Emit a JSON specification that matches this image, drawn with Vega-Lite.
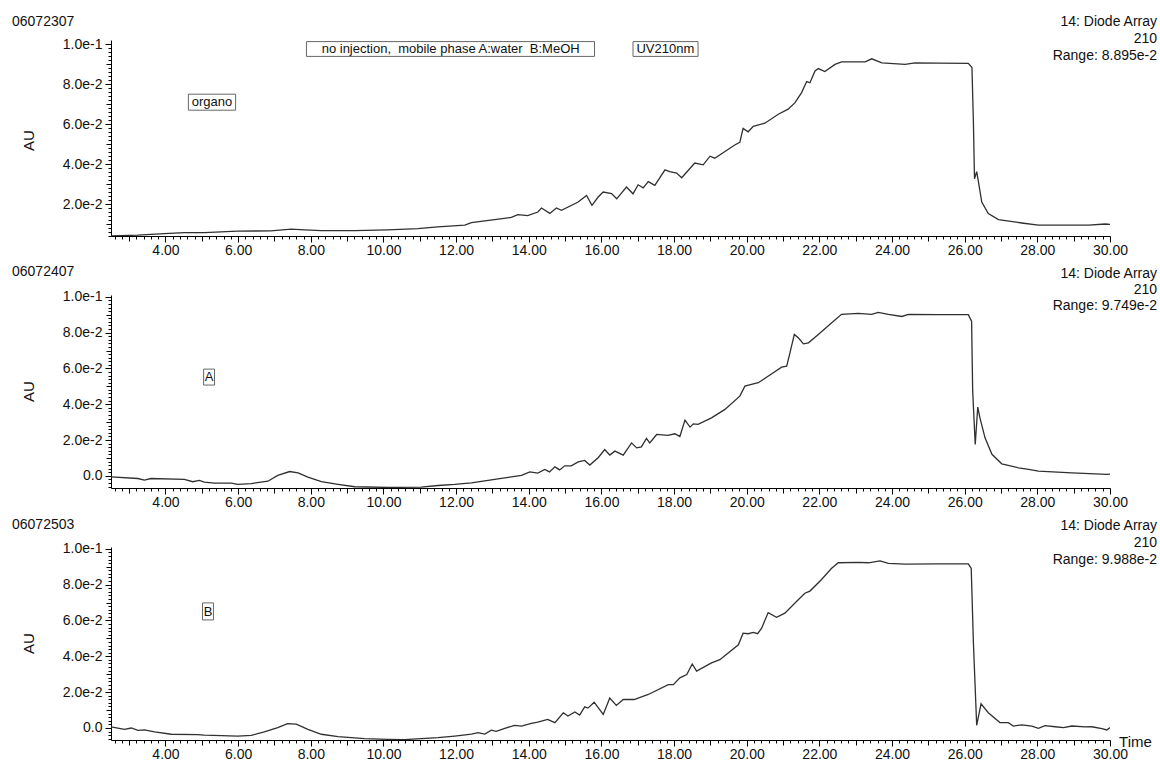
{
  "$schema": "https://vega.github.io/schema/vega-lite/v6.json",
  "padding": {"left": 12, "top": 14, "right": 2, "bottom": 2},
  "background": "white",
  "config": {
    "font": "Liberation Sans",
    "view": {"stroke": null},
    "axis": {"labelFont": "Liberation Sans", "labelFontSize": 14, "labelColor": "#111", "domainColor": "#000", "tickColor": "#000", "grid": false, "labelFlush": false, "labelOverlap": false, "tickCount": 500, "titleFont": "Liberation Sans", "titleFontWeight": "normal", "titleFontSize": 15, "titleColor": "#111"},
    "text": {"font": "Liberation Sans", "color": "#111"}
  },
  "datasets": {
    "p1": [
      {"t": 2.5, "v": 0.0041}, {"t": 3.23, "v": 0.0044}, {"t": 3.97, "v": 0.0052}, {"t": 4.52, "v": 0.0057}, {"t": 5.07, "v": 0.0057}, {"t": 5.98, "v": 0.0064}, {"t": 6.9, "v": 0.0066}, {"t": 7.46, "v": 0.0074}, {"t": 7.83, "v": 0.0071}, {"t": 8.29, "v": 0.0067}, {"t": 9.21, "v": 0.0067}, {"t": 10.12, "v": 0.0071}, {"t": 10.95, "v": 0.0077}, {"t": 11.49, "v": 0.0086}, {"t": 12.24, "v": 0.0094}, {"t": 12.42, "v": 0.0107}, {"t": 13.06, "v": 0.0122}, {"t": 13.52, "v": 0.0133}, {"t": 13.7, "v": 0.0147}, {"t": 13.97, "v": 0.0142}, {"t": 14.25, "v": 0.016}, {"t": 14.35, "v": 0.018}, {"t": 14.58, "v": 0.0153}, {"t": 14.76, "v": 0.018}, {"t": 14.9, "v": 0.0168}, {"t": 15.36, "v": 0.021}, {"t": 15.59, "v": 0.0243}, {"t": 15.74, "v": 0.0193}, {"t": 15.91, "v": 0.0235}, {"t": 16.05, "v": 0.026}, {"t": 16.28, "v": 0.0252}, {"t": 16.42, "v": 0.0226}, {"t": 16.69, "v": 0.0285}, {"t": 16.87, "v": 0.0251}, {"t": 17.01, "v": 0.0296}, {"t": 17.15, "v": 0.0281}, {"t": 17.29, "v": 0.0312}, {"t": 17.47, "v": 0.0293}, {"t": 17.75, "v": 0.0371}, {"t": 17.88, "v": 0.0362}, {"t": 18.07, "v": 0.0355}, {"t": 18.21, "v": 0.0331}, {"t": 18.57, "v": 0.0405}, {"t": 18.8, "v": 0.0396}, {"t": 18.99, "v": 0.0439}, {"t": 19.12, "v": 0.0429}, {"t": 19.67, "v": 0.0495}, {"t": 19.81, "v": 0.0508}, {"t": 19.9, "v": 0.0578}, {"t": 20.04, "v": 0.0561}, {"t": 20.18, "v": 0.0588}, {"t": 20.5, "v": 0.0604}, {"t": 20.87, "v": 0.0649}, {"t": 21.14, "v": 0.0674}, {"t": 21.33, "v": 0.0707}, {"t": 21.51, "v": 0.0757}, {"t": 21.65, "v": 0.0812}, {"t": 21.74, "v": 0.0806}, {"t": 21.88, "v": 0.0865}, {"t": 21.97, "v": 0.0877}, {"t": 22.15, "v": 0.0862}, {"t": 22.43, "v": 0.0898}, {"t": 22.61, "v": 0.0911}, {"t": 22.98, "v": 0.0911}, {"t": 23.26, "v": 0.0911}, {"t": 23.44, "v": 0.0926}, {"t": 23.72, "v": 0.0906}, {"t": 24.36, "v": 0.0898}, {"t": 24.63, "v": 0.0906}, {"t": 25.28, "v": 0.0904}, {"t": 26.1, "v": 0.0903}, {"t": 26.2, "v": 0.0882}, {"t": 26.24, "v": 0.0608}, {"t": 26.27, "v": 0.0326}, {"t": 26.33, "v": 0.0362}, {"t": 26.38, "v": 0.0309}, {"t": 26.47, "v": 0.021}, {"t": 26.65, "v": 0.0152}, {"t": 26.93, "v": 0.0122}, {"t": 27.57, "v": 0.0105}, {"t": 28.03, "v": 0.0094}, {"t": 28.95, "v": 0.0094}, {"t": 29.41, "v": 0.0094}, {"t": 29.87, "v": 0.01}, {"t": 30, "v": 0.0098}
    ],
    "p2": [
      {"t": 2.5, "v": -0.0006}, {"t": 3.24, "v": -0.0015}, {"t": 3.42, "v": -0.0024}, {"t": 3.6, "v": -0.0015}, {"t": 4.52, "v": -0.002}, {"t": 4.75, "v": -0.0033}, {"t": 4.93, "v": -0.0026}, {"t": 5.07, "v": -0.0035}, {"t": 5.35, "v": -0.0041}, {"t": 5.81, "v": -0.0041}, {"t": 5.99, "v": -0.0048}, {"t": 6.36, "v": -0.0043}, {"t": 6.82, "v": -0.003}, {"t": 7.09, "v": 0.0002}, {"t": 7.42, "v": 0.0024}, {"t": 7.65, "v": 0.0017}, {"t": 7.92, "v": -0.0007}, {"t": 8.29, "v": -0.0033}, {"t": 8.75, "v": -0.0048}, {"t": 9.21, "v": -0.0061}, {"t": 10.12, "v": -0.0065}, {"t": 11.04, "v": -0.0063}, {"t": 11.5, "v": -0.0054}, {"t": 11.96, "v": -0.0048}, {"t": 12.42, "v": -0.0039}, {"t": 12.88, "v": -0.0026}, {"t": 13.34, "v": -0.0011}, {"t": 13.8, "v": 0.0002}, {"t": 14.03, "v": 0.0022}, {"t": 14.25, "v": 0.0015}, {"t": 14.44, "v": 0.0036}, {"t": 14.57, "v": 0.0022}, {"t": 14.72, "v": 0.005}, {"t": 14.85, "v": 0.0033}, {"t": 14.99, "v": 0.0056}, {"t": 15.17, "v": 0.0056}, {"t": 15.36, "v": 0.0078}, {"t": 15.54, "v": 0.0086}, {"t": 15.68, "v": 0.006}, {"t": 15.91, "v": 0.0101}, {"t": 16.09, "v": 0.0147}, {"t": 16.23, "v": 0.0116}, {"t": 16.37, "v": 0.0138}, {"t": 16.6, "v": 0.0116}, {"t": 16.83, "v": 0.0184}, {"t": 16.97, "v": 0.0156}, {"t": 17.1, "v": 0.0162}, {"t": 17.24, "v": 0.0209}, {"t": 17.33, "v": 0.0184}, {"t": 17.52, "v": 0.0231}, {"t": 17.83, "v": 0.0226}, {"t": 18.02, "v": 0.0235}, {"t": 18.16, "v": 0.022}, {"t": 18.3, "v": 0.0311}, {"t": 18.44, "v": 0.0272}, {"t": 18.53, "v": 0.029}, {"t": 18.66, "v": 0.0287}, {"t": 19.03, "v": 0.0324}, {"t": 19.4, "v": 0.0371}, {"t": 19.81, "v": 0.0445}, {"t": 19.95, "v": 0.0501}, {"t": 20.13, "v": 0.0511}, {"t": 20.32, "v": 0.052}, {"t": 20.69, "v": 0.057}, {"t": 20.96, "v": 0.0607}, {"t": 21.1, "v": 0.0613}, {"t": 21.19, "v": 0.0687}, {"t": 21.31, "v": 0.079}, {"t": 21.42, "v": 0.0771}, {"t": 21.56, "v": 0.0737}, {"t": 21.7, "v": 0.0743}, {"t": 21.97, "v": 0.079}, {"t": 22.34, "v": 0.0855}, {"t": 22.61, "v": 0.0902}, {"t": 23.07, "v": 0.0907}, {"t": 23.44, "v": 0.0902}, {"t": 23.62, "v": 0.0913}, {"t": 23.9, "v": 0.0902}, {"t": 24.27, "v": 0.089}, {"t": 24.45, "v": 0.0902}, {"t": 25.28, "v": 0.09}, {"t": 26.1, "v": 0.09}, {"t": 26.19, "v": 0.0864}, {"t": 26.22, "v": 0.0473}, {"t": 26.29, "v": 0.0175}, {"t": 26.36, "v": 0.0384}, {"t": 26.42, "v": 0.0324}, {"t": 26.56, "v": 0.0212}, {"t": 26.75, "v": 0.012}, {"t": 27.02, "v": 0.0067}, {"t": 27.48, "v": 0.0045}, {"t": 27.76, "v": 0.0036}, {"t": 28.03, "v": 0.0026}, {"t": 28.95, "v": 0.0017}, {"t": 29.91, "v": 0.0008}, {"t": 30, "v": 0.001}
    ],
    "p3": [
      {"t": 2.5, "v": 0.0006}, {"t": 2.87, "v": -0.0008}, {"t": 3.06, "v": 0}, {"t": 3.24, "v": -0.0013}, {"t": 3.42, "v": -0.0011}, {"t": 3.7, "v": -0.0022}, {"t": 4.16, "v": -0.0035}, {"t": 4.89, "v": -0.0037}, {"t": 5.07, "v": -0.004}, {"t": 5.99, "v": -0.0045}, {"t": 6.36, "v": -0.0041}, {"t": 6.72, "v": -0.0022}, {"t": 7.09, "v": 0.0002}, {"t": 7.36, "v": 0.0024}, {"t": 7.6, "v": 0.0022}, {"t": 7.92, "v": -0.0008}, {"t": 8.29, "v": -0.0035}, {"t": 8.75, "v": -0.0048}, {"t": 9.48, "v": -0.0059}, {"t": 10.12, "v": -0.0063}, {"t": 10.58, "v": -0.0065}, {"t": 11.04, "v": -0.0059}, {"t": 11.5, "v": -0.0054}, {"t": 11.96, "v": -0.0045}, {"t": 12.42, "v": -0.0034}, {"t": 12.6, "v": -0.0026}, {"t": 12.79, "v": -0.0034}, {"t": 12.97, "v": -0.0012}, {"t": 13.1, "v": -0.0019}, {"t": 13.34, "v": -0.0002}, {"t": 13.61, "v": 0.0015}, {"t": 13.8, "v": 0.0011}, {"t": 14.07, "v": 0.0026}, {"t": 14.25, "v": 0.0033}, {"t": 14.52, "v": 0.0048}, {"t": 14.72, "v": 0.003}, {"t": 14.95, "v": 0.0085}, {"t": 15.08, "v": 0.0067}, {"t": 15.27, "v": 0.0089}, {"t": 15.4, "v": 0.0072}, {"t": 15.54, "v": 0.0118}, {"t": 15.63, "v": 0.0111}, {"t": 15.8, "v": 0.0144}, {"t": 16.05, "v": 0.0076}, {"t": 16.23, "v": 0.0167}, {"t": 16.41, "v": 0.0126}, {"t": 16.6, "v": 0.0159}, {"t": 16.9, "v": 0.0159}, {"t": 17.29, "v": 0.0187}, {"t": 17.84, "v": 0.0242}, {"t": 17.98, "v": 0.0242}, {"t": 18.16, "v": 0.028}, {"t": 18.35, "v": 0.0298}, {"t": 18.5, "v": 0.0357}, {"t": 18.62, "v": 0.0317}, {"t": 19.03, "v": 0.0363}, {"t": 19.26, "v": 0.0381}, {"t": 19.77, "v": 0.0464}, {"t": 19.9, "v": 0.0529}, {"t": 20.04, "v": 0.0526}, {"t": 20.18, "v": 0.0533}, {"t": 20.3, "v": 0.0526}, {"t": 20.41, "v": 0.0557}, {"t": 20.59, "v": 0.0644}, {"t": 20.82, "v": 0.0618}, {"t": 21.05, "v": 0.0641}, {"t": 21.37, "v": 0.0706}, {"t": 21.6, "v": 0.0752}, {"t": 21.74, "v": 0.0764}, {"t": 22.06, "v": 0.0829}, {"t": 22.33, "v": 0.089}, {"t": 22.52, "v": 0.0922}, {"t": 23.07, "v": 0.0924}, {"t": 23.35, "v": 0.0922}, {"t": 23.67, "v": 0.0933}, {"t": 23.9, "v": 0.0919}, {"t": 24.36, "v": 0.0914}, {"t": 25.28, "v": 0.0916}, {"t": 26.1, "v": 0.0916}, {"t": 26.18, "v": 0.089}, {"t": 26.24, "v": 0.0474}, {"t": 26.33, "v": 0.0015}, {"t": 26.45, "v": 0.0135}, {"t": 26.65, "v": 0.0085}, {"t": 26.97, "v": 0.003}, {"t": 27.2, "v": 0.003}, {"t": 27.34, "v": 0.0011}, {"t": 27.57, "v": 0.0017}, {"t": 27.85, "v": 0.0011}, {"t": 28.03, "v": -0.0002}, {"t": 28.21, "v": 0.0013}, {"t": 28.49, "v": 0.0007}, {"t": 28.72, "v": 0.0002}, {"t": 28.95, "v": 0.0011}, {"t": 29.32, "v": 0.0006}, {"t": 29.5, "v": 0.0007}, {"t": 29.78, "v": -0.0004}, {"t": 29.91, "v": -0.0011}, {"t": 30, "v": 0.0002}
    ]
  },
  "bounds": "flush",
  "spacing": 59,
  "vconcat": [
    {
      "width": 999, "height": 196,
      "layer": [
        {
          "data": {"name": "p1"},
          "mark": {"type": "line", "color": "#303030", "strokeWidth": 1.3, "clip": true},
          "encoding": {
            "x": {"field": "t", "type": "quantitative", "scale": {"domain": [2.5, 30], "nice": false, "zero": false},
              "axis": {"title": null, "tickCount": 500, "values": [2.6,2.8,3,3.2,3.4,3.6,3.8,4,4.2,4.4,4.6,4.8,5,5.2,5.4,5.6,5.8,6,6.2,6.4,6.6,6.8,7,7.2,7.4,7.6,7.8,8,8.2,8.4,8.6,8.8,9,9.2,9.4,9.6,9.8,10,10.2,10.4,10.6,10.8,11,11.2,11.4,11.6,11.8,12,12.2,12.4,12.6,12.8,13,13.2,13.4,13.6,13.8,14,14.2,14.4,14.6,14.8,15,15.2,15.4,15.6,15.8,16,16.2,16.4,16.6,16.8,17,17.2,17.4,17.6,17.8,18,18.2,18.4,18.6,18.8,19,19.2,19.4,19.6,19.8,20,20.2,20.4,20.6,20.8,21,21.2,21.4,21.6,21.8,22,22.2,22.4,22.6,22.8,23,23.2,23.4,23.6,23.8,24,24.2,24.4,24.6,24.8,25,25.2,25.4,25.6,25.8,26,26.2,26.4,26.6,26.8,27,27.2,27.4,27.6,27.8,28,28.2,28.4,28.6,28.8,29,29.2,29.4,29.6,29.8,30],
                "labelExpr": "abs(datum.value/2 - round(datum.value/2)) < 0.001 ? format(datum.value, '.2f') : ''",
                "tickSize": {"condition": [{"test": "abs(datum.value/2 - round(datum.value/2)) < 0.001", "value": 6}, {"test": "abs(datum.value - round(datum.value)) < 0.001", "value": 5}], "value": 3},
                "labelPadding": 1}},
            "y": {"field": "v", "type": "quantitative", "scale": {"domain": [0.004, 0.102], "nice": false, "zero": false},
              "axis": {"title": "AU", "tickCount": 500, "titleX": -82.5, "titleY": 100, "titleAngle": 270, "titleAlign": "center", "titleBaseline": "middle",
                "values": [0.004,0.006,0.008,0.01,0.012,0.014,0.016,0.018,0.02,0.022,0.024,0.026,0.028,0.03,0.032,0.034,0.036,0.038,0.04,0.042,0.044,0.046,0.048,0.05,0.052,0.054,0.056,0.058,0.06,0.062,0.064,0.066,0.068,0.07,0.072,0.074,0.076,0.078,0.08,0.082,0.084,0.086,0.088,0.09,0.092,0.094,0.096,0.098,0.1],
                "labelExpr": "abs(datum.value/0.02 - round(datum.value/0.02)) < 1e-6 ? (abs(datum.value) < 1e-9 ? '0.0' : format(datum.value, '.1e')) : ''",
                "tickSize": {"condition": [{"test": "abs(datum.value/0.02 - round(datum.value/0.02)) < 1e-6", "value": 6}, {"test": "abs(datum.value/0.01 - round(datum.value/0.01)) < 1e-6", "value": 5}], "value": 3},
                "labelPadding": 3}}
          }
        },
        {"data": {"values": [{}]}, "mark": {"type": "text", "text": "06072307", "align": "left", "baseline": "alphabetic", "dx": -99, "dy": -14.5, "fontSize": 14}, "encoding": {"x": {"datum": 2.5}, "y": {"datum": 0.102}}},
        {"data": {"values": [{}]}, "mark": {"type": "text", "text": ["14: Diode Array", "210", "Range: 8.895e-2"], "align": "right", "baseline": "alphabetic", "lineHeight": 17, "dx": 47, "dy": -14.5, "fontSize": 14}, "encoding": {"x": {"datum": 30}, "y": {"datum": 0.102}}},
        {"data": {"values": [{}]}, "mark": {"type": "rect", "fillOpacity": 0, "stroke": "#666", "strokeWidth": 1}, "encoding": {"x": {"datum": 7.88}, "x2": {"datum": 15.81}, "y": {"datum": 0.1012}, "y2": {"datum": 0.0938}}},
        {"data": {"values": [{}]}, "mark": {"type": "text", "text": "no injection,\u00a0 mobile phase A:water\u00a0 B:MeOH", "align": "center", "baseline": "middle", "fontSize": 13}, "encoding": {"x": {"datum": 11.85}, "y": {"datum": 0.0975}}},
        {"data": {"values": [{}]}, "mark": {"type": "rect", "fillOpacity": 0, "stroke": "#666", "strokeWidth": 1}, "encoding": {"x": {"datum": 16.87}, "x2": {"datum": 18.66}, "y": {"datum": 0.1012}, "y2": {"datum": 0.0938}}},
        {"data": {"values": [{}]}, "mark": {"type": "text", "text": "UV210nm", "align": "center", "baseline": "middle", "fontSize": 13}, "encoding": {"x": {"datum": 17.76}, "y": {"datum": 0.0975}}},
        {"data": {"values": [{}]}, "mark": {"type": "rect", "fillOpacity": 0, "stroke": "#666", "strokeWidth": 1}, "encoding": {"x": {"datum": 4.63}, "x2": {"datum": 5.93}, "y": {"datum": 0.0749}, "y2": {"datum": 0.0669}}},
        {"data": {"values": [{}]}, "mark": {"type": "text", "text": "organo", "align": "center", "baseline": "middle", "fontSize": 13}, "encoding": {"x": {"datum": 5.28}, "y": {"datum": 0.0709}}}
      ]
    },
    {
      "width": 999, "height": 193,
      "layer": [
        {
          "data": {"name": "p2"},
          "mark": {"type": "line", "color": "#303030", "strokeWidth": 1.3, "clip": true},
          "encoding": {
            "x": {"field": "t", "type": "quantitative", "scale": {"domain": [2.5, 30], "nice": false, "zero": false},
              "axis": {"title": null, "tickCount": 500, "values": [2.6,2.8,3,3.2,3.4,3.6,3.8,4,4.2,4.4,4.6,4.8,5,5.2,5.4,5.6,5.8,6,6.2,6.4,6.6,6.8,7,7.2,7.4,7.6,7.8,8,8.2,8.4,8.6,8.8,9,9.2,9.4,9.6,9.8,10,10.2,10.4,10.6,10.8,11,11.2,11.4,11.6,11.8,12,12.2,12.4,12.6,12.8,13,13.2,13.4,13.6,13.8,14,14.2,14.4,14.6,14.8,15,15.2,15.4,15.6,15.8,16,16.2,16.4,16.6,16.8,17,17.2,17.4,17.6,17.8,18,18.2,18.4,18.6,18.8,19,19.2,19.4,19.6,19.8,20,20.2,20.4,20.6,20.8,21,21.2,21.4,21.6,21.8,22,22.2,22.4,22.6,22.8,23,23.2,23.4,23.6,23.8,24,24.2,24.4,24.6,24.8,25,25.2,25.4,25.6,25.8,26,26.2,26.4,26.6,26.8,27,27.2,27.4,27.6,27.8,28,28.2,28.4,28.6,28.8,29,29.2,29.4,29.6,29.8,30],
                "labelExpr": "abs(datum.value/2 - round(datum.value/2)) < 0.001 ? format(datum.value, '.2f') : ''",
                "tickSize": {"condition": [{"test": "abs(datum.value/2 - round(datum.value/2)) < 0.001", "value": 6}, {"test": "abs(datum.value - round(datum.value)) < 0.001", "value": 5}], "value": 3},
                "labelPadding": 1}},
            "y": {"field": "v", "type": "quantitative", "scale": {"domain": [-0.0068, 0.101], "nice": false, "zero": false},
              "axis": {"title": "AU", "tickCount": 500, "titleX": -82.5, "titleY": 96, "titleAngle": 270, "titleAlign": "center", "titleBaseline": "middle",
                "values": [-0.006,-0.004,-0.002,0,0.002,0.004,0.006,0.008,0.01,0.012,0.014,0.016,0.018,0.02,0.022,0.024,0.026,0.028,0.03,0.032,0.034,0.036,0.038,0.04,0.042,0.044,0.046,0.048,0.05,0.052,0.054,0.056,0.058,0.06,0.062,0.064,0.066,0.068,0.07,0.072,0.074,0.076,0.078,0.08,0.082,0.084,0.086,0.088,0.09,0.092,0.094,0.096,0.098,0.1],
                "labelExpr": "abs(datum.value/0.02 - round(datum.value/0.02)) < 1e-6 ? (abs(datum.value) < 1e-9 ? '0.0' : format(datum.value, '.1e')) : ''",
                "tickSize": {"condition": [{"test": "abs(datum.value/0.02 - round(datum.value/0.02)) < 1e-6", "value": 6}, {"test": "abs(datum.value/0.01 - round(datum.value/0.01)) < 1e-6", "value": 5}], "value": 3},
                "labelPadding": 3}}
          }
        },
        {"data": {"values": [{}]}, "mark": {"type": "text", "text": "06072407", "align": "left", "baseline": "alphabetic", "dx": -99, "dy": -19.5, "fontSize": 14}, "encoding": {"x": {"datum": 2.5}, "y": {"datum": 0.101}}},
        {"data": {"values": [{}]}, "mark": {"type": "text", "text": ["14: Diode Array", "210", "Range: 9.749e-2"], "align": "right", "baseline": "alphabetic", "lineHeight": 16, "dx": 47, "dy": -17, "fontSize": 14}, "encoding": {"x": {"datum": 30}, "y": {"datum": 0.101}}},
        {"data": {"values": [{}]}, "mark": {"type": "rect", "fillOpacity": 0, "stroke": "#666", "strokeWidth": 1}, "encoding": {"x": {"datum": 5.05}, "x2": {"datum": 5.35}, "y": {"datum": 0.0596}, "y2": {"datum": 0.0507}}},
        {"data": {"values": [{}]}, "mark": {"type": "text", "text": "A", "align": "center", "baseline": "middle", "fontSize": 13}, "encoding": {"x": {"datum": 5.2}, "y": {"datum": 0.0551}}}
      ]
    },
    {
      "width": 999, "height": 193,
      "layer": [
        {
          "data": {"name": "p3"},
          "mark": {"type": "line", "color": "#303030", "strokeWidth": 1.3, "clip": true},
          "encoding": {
            "x": {"field": "t", "type": "quantitative", "scale": {"domain": [2.5, 30], "nice": false, "zero": false},
              "axis": {"title": "Time", "tickCount": 500, "titleX": 1024, "titleY": 1.5, "titleAlign": "center", "titleBaseline": "middle", "values": [2.6,2.8,3,3.2,3.4,3.6,3.8,4,4.2,4.4,4.6,4.8,5,5.2,5.4,5.6,5.8,6,6.2,6.4,6.6,6.8,7,7.2,7.4,7.6,7.8,8,8.2,8.4,8.6,8.8,9,9.2,9.4,9.6,9.8,10,10.2,10.4,10.6,10.8,11,11.2,11.4,11.6,11.8,12,12.2,12.4,12.6,12.8,13,13.2,13.4,13.6,13.8,14,14.2,14.4,14.6,14.8,15,15.2,15.4,15.6,15.8,16,16.2,16.4,16.6,16.8,17,17.2,17.4,17.6,17.8,18,18.2,18.4,18.6,18.8,19,19.2,19.4,19.6,19.8,20,20.2,20.4,20.6,20.8,21,21.2,21.4,21.6,21.8,22,22.2,22.4,22.6,22.8,23,23.2,23.4,23.6,23.8,24,24.2,24.4,24.6,24.8,25,25.2,25.4,25.6,25.8,26,26.2,26.4,26.6,26.8,27,27.2,27.4,27.6,27.8,28,28.2,28.4,28.6,28.8,29,29.2,29.4,29.6,29.8,30],
                "labelExpr": "abs(datum.value/2 - round(datum.value/2)) < 0.001 ? format(datum.value, '.2f') : ''",
                "tickSize": {"condition": [{"test": "abs(datum.value/2 - round(datum.value/2)) < 0.001", "value": 6}, {"test": "abs(datum.value - round(datum.value)) < 0.001", "value": 5}], "value": 3},
                "labelPadding": 1}},
            "y": {"field": "v", "type": "quantitative", "scale": {"domain": [-0.0067, 0.101], "nice": false, "zero": false},
              "axis": {"title": "AU", "tickCount": 500, "titleX": -82.5, "titleY": 96, "titleAngle": 270, "titleAlign": "center", "titleBaseline": "middle",
                "values": [-0.006,-0.004,-0.002,0,0.002,0.004,0.006,0.008,0.01,0.012,0.014,0.016,0.018,0.02,0.022,0.024,0.026,0.028,0.03,0.032,0.034,0.036,0.038,0.04,0.042,0.044,0.046,0.048,0.05,0.052,0.054,0.056,0.058,0.06,0.062,0.064,0.066,0.068,0.07,0.072,0.074,0.076,0.078,0.08,0.082,0.084,0.086,0.088,0.09,0.092,0.094,0.096,0.098,0.1],
                "labelExpr": "abs(datum.value/0.02 - round(datum.value/0.02)) < 1e-6 ? (abs(datum.value) < 1e-9 ? '0.0' : format(datum.value, '.1e')) : ''",
                "tickSize": {"condition": [{"test": "abs(datum.value/0.02 - round(datum.value/0.02)) < 1e-6", "value": 6}, {"test": "abs(datum.value/0.01 - round(datum.value/0.01)) < 1e-6", "value": 5}], "value": 3},
                "labelPadding": 3}}
          }
        },
        {"data": {"values": [{}]}, "mark": {"type": "text", "text": "06072503", "align": "left", "baseline": "alphabetic", "dx": -99, "dy": -18, "fontSize": 14}, "encoding": {"x": {"datum": 2.5}, "y": {"datum": 0.101}}},
        {"data": {"values": [{}]}, "mark": {"type": "text", "text": ["14: Diode Array", "210", "Range: 9.988e-2"], "align": "right", "baseline": "alphabetic", "lineHeight": 17, "dx": 47, "dy": -17.5, "fontSize": 14}, "encoding": {"x": {"datum": 30}, "y": {"datum": 0.101}}},
        {"data": {"values": [{}]}, "mark": {"type": "rect", "fillOpacity": 0, "stroke": "#666", "strokeWidth": 1}, "encoding": {"x": {"datum": 5.02}, "x2": {"datum": 5.32}, "y": {"datum": 0.0698}, "y2": {"datum": 0.0603}}},
        {"data": {"values": [{}]}, "mark": {"type": "text", "text": "B", "align": "center", "baseline": "middle", "fontSize": 13}, "encoding": {"x": {"datum": 5.17}, "y": {"datum": 0.0649}}}
      ]
    }
  ]
}
